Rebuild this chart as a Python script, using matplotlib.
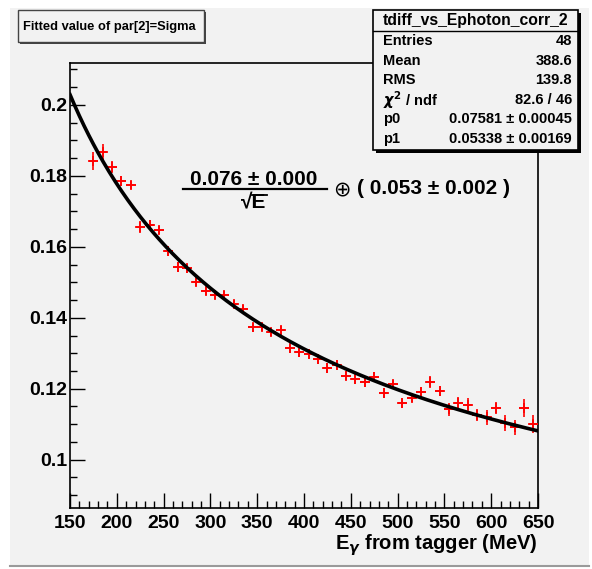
import matplotlib
matplotlib.use('Agg')
import matplotlib.pyplot as plt
import numpy as np
from matplotlib.patches import Rectangle
from matplotlib.lines import Line2D
from matplotlib.ticker import MultipleLocator, FuncFormatter

# ---------------- data ----------------
energy = np.arange(175, 650, 10)  # bin centres (MeV), 48 bins
sigma = [0.1842, 0.1866, 0.1825, 0.1786, 0.1774, 0.1655, 0.1661, 0.1647,
         0.1588, 0.1542, 0.1539, 0.1501, 0.1476, 0.1464, 0.1464, 0.1439,
         0.1426, 0.1373, 0.1373, 0.1361, 0.1365, 0.1314, 0.1303, 0.1298,
         0.1284, 0.1259, 0.1267, 0.1237, 0.1227, 0.1218, 0.1234, 0.1189,
         0.1212, 0.1159, 0.1175, 0.1192, 0.1218, 0.1194, 0.1142, 0.1161,
         0.1154, 0.1126, 0.1119, 0.1145, 0.1103, 0.1091, 0.1145, 0.1101]
sigma_err = [0.0025, 0.0023, 0.0017, 0.0014, 0.0011, 0.0017, 0.0014, 0.0011,
             0.0013, 0.0014, 0.0013, 0.0011, 0.0011, 0.0011, 0.0011, 0.0011,
             0.0011, 0.0013, 0.0011, 0.0011, 0.0013, 0.0013, 0.0013, 0.0013,
             0.0013, 0.0014, 0.0014, 0.0013, 0.0013, 0.0013, 0.0013, 0.0014,
             0.0013, 0.0014, 0.0013, 0.0013, 0.0017, 0.0014, 0.0018, 0.0015,
             0.0019, 0.0017, 0.0021, 0.0017, 0.0023, 0.0021, 0.0025, 0.0025]
bin_half = 5

p0, p1 = 0.07581, 0.05338
stat_labels = ['Entries', 'Mean', 'RMS', r'$\chi^{2}$ / ndf', 'p0', 'p1']
stat_values = ['48', '388.6', '139.8', '82.6 / 46',
               '0.07581 \u00b1 0.00045', '0.05338 \u00b1 0.00169']
hist_name = 'tdiff_vs_Ephoton_corr_2'
title = 'Fitted value of par[2]=Sigma'
# --------------------------------------

plt.rcParams['font.family'] = ['Liberation Sans', 'DejaVu Sans']
plt.rcParams['font.weight'] = 'bold'

W, H = 592, 569
def fx(px):
    return px / W
def fy(py):
    return 1 - py / H

fig = plt.figure(figsize=(W / 100, H / 100), dpi=100)
fig.patch.set_facecolor('white')
bg = '#f2f2f2'

# pad background with bevel
fig.patches.append(Rectangle((fx(10), fy(566)), fx(589) - fx(10), fy(8) - fy(566),
                             transform=fig.transFigure, facecolor=bg,
                             edgecolor='none', zorder=-2))
fig.lines.append(Line2D([fx(10), fx(589)], [fy(566), fy(566)], transform=fig.transFigure,
                        color='#9a9a9a', lw=1.5, zorder=-1))

ax = fig.add_axes([fx(70), fy(508), fx(538) - fx(70), fy(63.3) - fy(508)])
ax.set_facecolor(bg)

ax.errorbar(energy, sigma, xerr=bin_half, yerr=sigma_err, fmt='+', color='red',
            ms=6.5, mew=1.2, elinewidth=1.2, capsize=0, zorder=3)

e = np.linspace(150, 650, 300)
ax.plot(e, np.sqrt(p0 ** 2 / (e / 1000) + p1 ** 2), color='black', lw=2.6, zorder=4)

ax.set_xlim(150, 650)
ax.set_ylim(0.0864, 0.2117)
ax.xaxis.set_major_locator(MultipleLocator(50))
ax.xaxis.set_minor_locator(MultipleLocator(10))
ax.yaxis.set_major_locator(MultipleLocator(0.02))
ax.yaxis.set_minor_locator(MultipleLocator(0.005))
ax.yaxis.set_major_formatter(FuncFormatter(lambda v, _: f'{round(v, 3):g}'))
ax.tick_params(which='both', direction='in', top=False, right=False, width=1.0)
ax.tick_params(which='major', length=10.5)
ax.tick_params(which='minor', length=5)
ax.tick_params(axis='y', pad=2, labelsize=14)
ax.tick_params(axis='x', pad=5, labelsize=14)
for lab in ax.get_xticklabels() + ax.get_yticklabels():
    lab.set_fontweight('bold')
for s in ax.spines.values():
    s.set_linewidth(1.2)

fig.text(fx(538), fy(545), r'E$_{\gamma}$ from tagger (MeV)', ha='right', va='center',
         fontsize=14.5, fontweight='bold')

# formula
fig.text(fx(254), fy(180), '0.076 \u00b1 0.000', ha='center', va='center',
         fontsize=15, fontweight='bold')
fig.lines.append(Line2D([fx(183), fx(327)], [fy(189), fy(189)], transform=fig.transFigure,
                        color='black', lw=1.6))
fig.text(fx(254), fy(203), '\u221aE', ha='center', va='center', fontsize=15, fontweight='bold')
fig.lines.append(Line2D([fx(252), fx(267)], [fy(195), fy(195)], transform=fig.transFigure,
                        color='black', lw=1.3))
fig.text(fx(333), fy(189), '\u2295', ha='left', va='center', fontsize=15,
         family=['DejaVu Sans'], fontweight='normal')
fig.text(fx(357), fy(189), '( 0.053 \u00b1 0.002 )', ha='left', va='center',
         fontsize=15, fontweight='bold')

# title box
fig.patches.append(Rectangle((fx(20), fy(44)), fx(206) - fx(20), fy(12) - fy(44),
                             transform=fig.transFigure, facecolor='#444444',
                             edgecolor='none', zorder=5))
fig.patches.append(Rectangle((fx(18), fy(42)), fx(204) - fx(18), fy(10) - fy(42),
                             transform=fig.transFigure, facecolor=bg,
                             edgecolor='#444444', lw=1, zorder=6))
fig.text(fx(23), fy(27), title, ha='left', va='center', fontsize=9.3,
         fontweight='bold', zorder=7)

# stats box
x0, x1, y0, y1 = 373, 578, 10, 150
fig.patches.append(Rectangle((fx(x0 + 3), fy(y1 + 3)), fx(x1) - fx(x0), fy(y0) - fy(y1),
                             transform=fig.transFigure, facecolor='black',
                             edgecolor='none', zorder=5))
fig.patches.append(Rectangle((fx(x0), fy(y1)), fx(x1) - fx(x0), fy(y0) - fy(y1),
                             transform=fig.transFigure, facecolor=bg,
                             edgecolor='black', lw=1.2, zorder=6))
fig.lines.append(Line2D([fx(x0), fx(x1)], [fy(31), fy(31)], transform=fig.transFigure,
                        color='black', lw=1.0, zorder=7))
fig.text(fx((x0 + x1) / 2), fy(20), hist_name, ha='center', va='center',
         fontsize=11.3, fontweight='bold', zorder=7)
for i, (lab, val) in enumerate(zip(stat_labels, stat_values)):
    yy = fy(41 + i * 19.6)
    fig.text(fx(383), yy, lab, ha='left', va='center', fontsize=10.5,
             fontweight='bold', zorder=7)
    fig.text(fx(572), yy, val, ha='right', va='center', fontsize=10.5,
             fontweight='bold', zorder=7)

fig.savefig('out.png', dpi=100)
